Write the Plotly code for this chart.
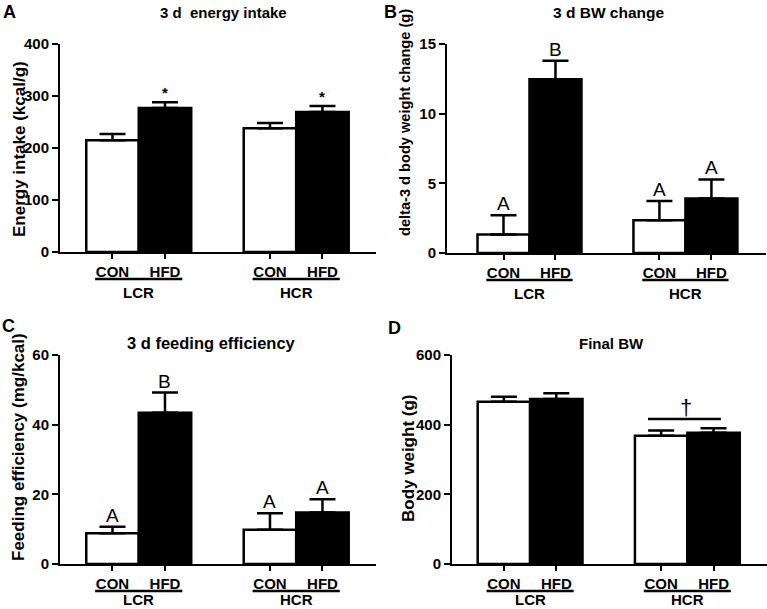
import plotly.graph_objects as go

W, H = 767, 609

# ---------------- data ----------------
groups = ["LCR", "HCR"]
diets = ["CON", "HFD"]

# A: 3 d energy intake (kcal/g)
energy_con = [215, 238]
energy_con_err = [12, 10]
energy_hfd = [277, 269]
energy_hfd_err = [11, 12]
energy_con_marks = ["", ""]
energy_hfd_marks = ["*", "*"]

# B: 3 d BW change (g)
bw_con = [1.32, 2.35]
bw_con_err = [1.39, 1.39]
bw_hfd = [12.47, 3.91]
bw_hfd_err = [1.33, 1.37]
bw_con_letters = ["A", "A"]
bw_hfd_letters = ["B", "A"]

# C: 3 d feeding efficiency (mg/kcal)
fe_con = [8.8, 9.8]
fe_con_err = [1.9, 4.8]
fe_hfd = [43.4, 14.8]
fe_hfd_err = [5.8, 3.8]
fe_con_letters = ["A", "A"]
fe_hfd_letters = ["B", "A"]

# D: Final BW (g)
final_con = [466, 368]
final_con_err = [14, 15]
final_hfd = [474, 377]
final_hfd_err = [16, 13]
final_hcr_bracket = 416

FONT = "Liberation Sans, Arial, sans-serif"


def px_x(p):
    return p / W


def px_y(p):
    return 1 - p / H


panels = [
    dict(key="A", title="3 d  energy intake", ytitle="Energy intake (kcal/g)",
         con=energy_con, con_err=energy_con_err, hfd=energy_hfd, hfd_err=energy_hfd_err,
         con_lab=energy_con_marks, hfd_lab=energy_hfd_marks, lab_size=15, lab_bold=True,
         xdom=(60, 376), ydom=(44, 252), xr=(-1.0, 5.02), yr=(0, 400),
         yticks=[0, 100, 200, 300, 400], grp_shift=-40.5,
         title_pos=(223, 13, 15), ytitle_pos=(19, 149, 17), letter_pos=(9, 12)),
    dict(key="B", title="3 d BW change", ytitle="delta-3 d body weight change (g)",
         con=bw_con, con_err=bw_con_err, hfd=bw_hfd, hfd_err=bw_hfd_err,
         con_lab=bw_con_letters, hfd_lab=bw_hfd_letters, lab_size=19, lab_bold=False,
         xdom=(447, 766), ydom=(44, 253), xr=(-1.087, 5.05), yr=(0, 15),
         yticks=[0, 5, 10, 15], grp_shift=-40.5,
         title_pos=(608, 13, 15.5), ytitle_pos=(405, 123, 14.6), letter_pos=(391, 12)),
    dict(key="C", title="3 d feeding efficiency", ytitle="Feeding efficiency (mg/kcal)",
         con=fe_con, con_err=fe_con_err, hfd=fe_hfd, hfd_err=fe_hfd_err,
         con_lab=fe_con_letters, hfd_lab=fe_hfd_letters, lab_size=19, lab_bold=False,
         xdom=(60, 376), ydom=(355, 564), xr=(-1.0, 5.02), yr=(0, 60),
         yticks=[0, 20, 40, 60], grp_shift=-35.5,
         title_pos=(211, 343, 16.5), ytitle_pos=(18, 447, 17), letter_pos=(8, 326)),
    dict(key="D", title="Final BW", ytitle="Body weight (g)",
         con=final_con, con_err=final_con_err, hfd=final_hfd, hfd_err=final_hfd_err,
         con_lab=["", ""], hfd_lab=["", ""], lab_size=15, lab_bold=True,
         xdom=(452, 767), ydom=(355, 564), xr=(-0.99, 5.02), yr=(0, 600),
         yticks=[0, 200, 400, 600], grp_shift=-35.5,
         title_pos=(611, 343, 15), ytitle_pos=(408, 459, 17), letter_pos=(394, 328)),
]

fig = go.Figure()
annotations = []
shapes = []
layout_axes = {}


def pos(g, d):
    return 3 * g + d


for i, p in enumerate(panels, start=1):
    xa = "x" if i == 1 else f"x{i}"
    ya = "y" if i == 1 else f"y{i}"
    xkey = "xaxis" if i == 1 else f"xaxis{i}"
    ykey = "yaxis" if i == 1 else f"yaxis{i}"

    for d, (vals, errs, fill) in enumerate([(p["con"], p["con_err"], "white"),
                                             (p["hfd"], p["hfd_err"], "black")]):
        fig.add_trace(go.Bar(
            x=[pos(g, d) for g in range(len(groups))], y=vals, width=1,
            marker=dict(color=fill, line=dict(color="black", width=2.5)),
            error_y=dict(type="data", array=errs, arrayminus=[0] * len(errs),
                         symmetric=False, color="black", thickness=2.5, width=13),
            xaxis=xa, yaxis=ya, showlegend=False, name=diets[d], hoverinfo="skip"))
        labs = p["con_lab"] if d == 0 else p["hfd_lab"]
        for g in range(len(groups)):
            if labs[g]:
                annotations.append(dict(
                    x=pos(g, d), y=vals[g] + errs[g], xref=xa, yref=ya,
                    text=labs[g], showarrow=False, yanchor="bottom", xanchor="center",
                    yshift=-1,
                    font=dict(family=FONT, size=p["lab_size"], color="black",
                              weight="bold" if p["lab_bold"] else "normal")))

    layout_axes[xkey] = dict(
        domain=[px_x(p["xdom"][0]), px_x(p["xdom"][1])], range=list(p["xr"]),
        anchor=ya, showline=True, linecolor="black", linewidth=2,
        ticks="outside", ticklen=5, tickwidth=2, tickcolor="black",
        tickvals=[pos(g, d) for g in range(len(groups)) for d in range(len(diets))],
        ticktext=[diets[d] for g in range(len(groups)) for d in range(len(diets))],
        tickfont=dict(family=FONT, size=15, color="black", weight="bold"),
        showgrid=False, zeroline=False, fixedrange=True, automargin=False)
    layout_axes[ykey] = dict(
        domain=[px_y(p["ydom"][1]), px_y(p["ydom"][0])], range=list(p["yr"]),
        anchor=xa, showline=True, linecolor="black", linewidth=2,
        ticks="outside", ticklen=6, tickwidth=2, tickcolor="black",
        tickvals=p["yticks"],
        tickfont=dict(family=FONT, size=15, color="black", weight="bold"),
        showgrid=False, zeroline=False, fixedrange=True, automargin=False)

    # group labels + underline
    for g, gname in enumerate(groups):
        c = (pos(g, 0) + pos(g, 1)) / 2
        annotations.append(dict(
            x=c, y=0, xref=xa, yref=f"{ya} domain", yshift=p["grp_shift"],
            text=gname, showarrow=False, xanchor="center", yanchor="middle",
            font=dict(family=FONT, size=15, color="black", weight="bold")))
        shapes.append(dict(
            type="line", xref=xa, yref=f"{ya} domain", ysizemode="pixel", yanchor=0,
            x0=c - 0.83, x1=c + 0.83, y0=-27, y1=-27,
            line=dict(color="black", width=2.5)))

    # titles / letters / y titles
    tx, ty, ts = p["title_pos"]
    annotations.append(dict(x=px_x(tx), y=px_y(ty), xref="paper", yref="paper",
                            text=p["title"], showarrow=False, xanchor="center", yanchor="middle",
                            font=dict(family=FONT, size=ts, color="black", weight="bold")))
    lx, ly = p["letter_pos"]
    annotations.append(dict(x=px_x(lx), y=px_y(ly), xref="paper", yref="paper",
                            text=p["key"], showarrow=False, xanchor="center", yanchor="middle",
                            font=dict(family=FONT, size=18, color="black", weight="bold")))
    yx, yy, ys = p["ytitle_pos"]
    annotations.append(dict(x=px_x(yx), y=px_y(yy), xref="paper", yref="paper",
                            text=p["ytitle"], showarrow=False, textangle=-90,
                            xanchor="center", yanchor="middle",
                            font=dict(family=FONT, size=ys, color="black", weight="bold")))

# D: bracket with dagger over HCR
shapes.append(dict(type="line", xref="x4", yref="y4", x0=2.75, x1=4.14,
                   y0=final_hcr_bracket, y1=final_hcr_bracket,
                   line=dict(color="black", width=2.5)))
annotations.append(dict(x=3.47, y=final_hcr_bracket, xref="x4", yref="y4", text="†",
                        showarrow=False, xanchor="center", yanchor="bottom", yshift=-3,
                        font=dict(family=FONT, size=22, color="black")))

fig.update_layout(
    template="none",
    width=W, height=H, margin=dict(l=0, r=0, t=0, b=0, pad=0, autoexpand=False),
    paper_bgcolor="white", plot_bgcolor="white",
    barmode="overlay", showlegend=False, hovermode=False,
    annotations=annotations, shapes=shapes,
    font=dict(family=FONT, color="black"),
    **layout_axes)

fig.write_html(
    "out.html",
    config={"displayModeBar": False, "staticPlot": True},
    post_script="document.body.style.margin='0';document.body.style.overflow='hidden';")
